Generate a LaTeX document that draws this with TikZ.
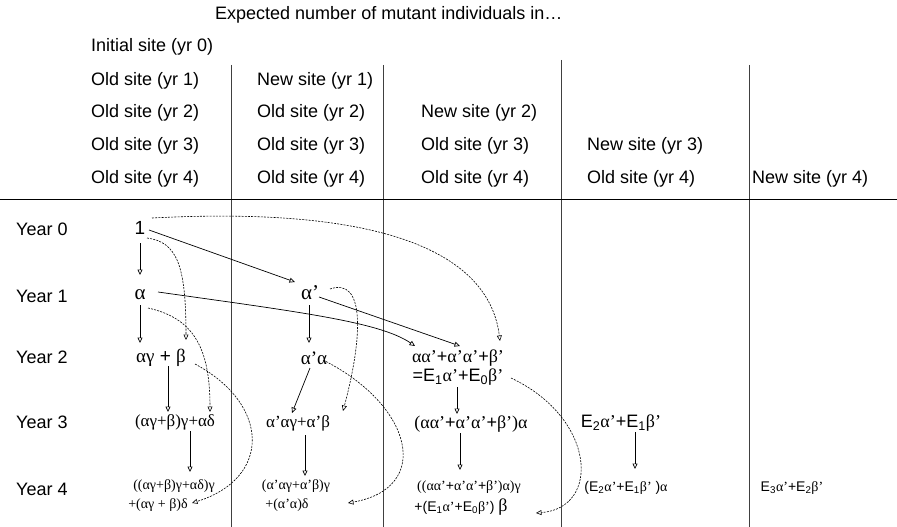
\documentclass[tikz,border=0pt]{standalone}
\usepackage{fontspec}
\setmainfont{Liberation Sans}
\newfontfamily\grk{Liberation Serif}
\usetikzlibrary{arrows.meta,calc}
\newcommand\xa{{\grk α}}
\newcommand\xb{{\grk β}}
\newcommand\xg{{\grk γ}}
\newcommand\xd{{\grk δ}}
\newcommand\xp{{\grk ’}}
\newcommand\xE[1]{E\textsubscript{#1}}
\newcommand\fs[1]{\fontsize{#1}{#1}\selectfont}
\tikzset{
  txt/.style={inner sep=0pt, font=\fs{18}, anchor=west},
  fm/.style={inner sep=0pt, font=\fs{18}},
  fsm/.style={inner sep=0pt, font=\fs{14}},
  sep/.style={draw=black!75, line width=0.9pt},
  ar/.style={draw=black, line width=0.7pt, -{Triangle[open,length=5.5pt,width=5pt]}},
  dar/.style={draw=black, line width=0.6pt, dash pattern=on 2pt off 1.2pt, -{Triangle[open,length=5.5pt,width=5pt]}}
}
\begin{document}
\begin{tikzpicture}[x=1pt,y=-1pt]
\path[use as bounding box] (0,0) rectangle (897,527);
% separators
\draw[sep] (231,65) -- (231,527);
\draw[sep] (383,65) -- (383,527);
\draw[sep] (561,60) -- (561,527);
\draw[sep] (749,65) -- (749,527);
\draw[black, line width=1pt] (0,199) -- (897,199);
% headers
\node[txt] (title) at (215,15) {Expected number of mutant individuals in…};
\node[txt] (hi) at (91,47) {Initial site (yr 0)};
\node[txt] (h11) at (91,81) {Old site (yr 1)};
\node[txt] (h12) at (91,113) {Old site (yr 2)};
\node[txt] (h13) at (91,146) {Old site (yr 3)};
\node[txt] (h14) at (91,179) {Old site (yr 4)};
\node[txt] (h21) at (257,81) {New site (yr 1)};
\node[txt] (h22) at (257,113) {Old site (yr 2)};
\node[txt] (h23) at (257,146) {Old site (yr 3)};
\node[txt] (h24) at (257,179) {Old site (yr 4)};
\node[txt] (h32) at (421,113) {New site (yr 2)};
\node[txt] (h33) at (421,146) {Old site (yr 3)};
\node[txt] (h34) at (421,179) {Old site (yr 4)};
\node[txt] (h43) at (587,146) {New site (yr 3)};
\node[txt] (h44) at (587,179) {Old site (yr 4)};
\node[txt] (h54) at (752,179) {New site (yr 4)};
% year labels
\node[txt] (y0) at (16,229) {Year 0};
\node[txt] (y1) at (16,296) {Year 1};
\node[txt] (y2) at (16,357) {Year 2};
\node[txt] (y3) at (16,422) {Year 3};
\node[txt] (y4) at (16,489) {Year 4};
% formulas
\node[fm, font=\fs{19}] (n1) at (140,228) {1};
\node[fm, font=\fs{21}] (na) at (140,295) {\xa};
\node[fm, font=\fs{19}] (nag) at (161,358) {\xa\xg{} + \xb};
\node[fm, font=\fs{17}] (n3a) at (175,422) {\grk(αγ+β)γ+αδ};
\node[fsm] (n4a1) at (174,486) {\grk((αγ+β)γ+αδ)γ};
\node[fsm] (n4a2) at (158,505) {\grk+(αγ + β)δ};
\node[fm, font=\fs{21}] (nap) at (310,293) {\xa\xp};
\node[fm, font=\fs{19}] (napa) at (314,358) {\xa\xp\xa};
\node[fm, font=\fs{17}] (n3b) at (298,423) {\grk α’αγ+α’β};
\node[fsm] (n4b1) at (296,486) {\grk(α’αγ+α’β)γ};
\node[fsm] (n4b2) at (287,505) {\grk+(α’α)δ};
\node[fm] (n2c1) at (458,358) {\xa\xa\xp+\xa\xp\xa\xp+\xb\xp};
\node[fm] (n2c2) at (458,377) {=\xE{1}\xa\xp+\xE{0}\xb\xp};
\node[fm] (n3c) at (471,424) {{\grk(}\xa\xa\xp+\xa\xp\xa\xp+\xb\xp{\grk)}\xa};
\node[fsm] (n4c1) at (469,487) {{\grk((}\xa\xa\xp+\xa\xp\xa\xp+\xb\xp{\grk)}\xa{\grk)}\xg};
\node[fsm] (n4c2) at (461,507) {+(\xE{1}\xa\xp+\xE{0}\xb\xp) {\fs{18}\xb}};
\node[fm] (n3d) at (621,423) {\xE{2}\xa\xp+\xE{1}\xb\xp};
\node[fsm] (n4d) at (626,488) {(\xE{2}\xa\xp+\xE{1}\xb\xp\ )\xa};
\node[fsm] (n4e) at (792,488) {\xE{3}\xa\xp+\xE{2}\xb\xp};
% solid arrows
\draw[ar] ($(n1)+(0,15)$) -- ($(na)+(0,-20)$);
\draw[ar] ($(na)+(0,10)$) -- ($(nag)+(-21,-15)$);
\draw[ar] ($(nag)+(7,8)$) -- ($(n3a)+(-7,-10)$);
\draw[ar] ($(n3a)+(15,9)$) -- ($(n4a1)+(16,-14)$);
\draw[ar] ($(n1)+(9,2)$) -- ($(nap)+(-15,-11)$);
\draw[ar] ($(na)+(18,-3)$) .. controls +(142,20) and +(-35,-24) .. ($(n2c1)+(-43,-12)$);
\draw[ar] ($(nap)+(-1,12)$) -- ($(napa)+(-5,-15)$);
\draw[ar] ($(napa)+(-4,10)$) -- ($(n3b)+(-6,-10)$);
\draw[ar] ($(n3b)+(7,12)$) -- ($(n4b1)+(9,-10)$);
\draw[ar] ($(nap)+(9,4)$) -- ($(n2c1)+(2,-12)$);
\draw[ar] ($(n2c2)+(-1,10)$) -- ($(n3c)+(-14,-10)$);
\draw[ar] ($(n3c)+(-11,9)$) -- ($(n4c1)+(-9,-17)$);
\draw[ar] ($(n3d)+(14,9)$) -- ($(n4d)+(9,-19)$);
% dashed arrows
\draw[dar] ($(n1)+(12,-10)$) .. controls +(248,-13) and +(-10,-81) .. ($(n2c1)+(42,-17)$);
\draw[dar] ($(n1)+(7,10)$) .. controls +(30,4) and +(0,-75) .. ($(nag)+(25,-18)$);
\draw[dar] ($(na)+(8,13)$) .. controls +(45,10) and +(0,-65) .. ($(n3a)+(35,-10)$);
\draw[dar] ($(nag)+(34,6)$) .. controls +(75,40) and +(80,-25) .. ($(n4a2)+(34,-2)$);
\draw[dar] ($(nap)+(20,-4)$) .. controls +(35,-12) and +(20,-75) .. ($(n3b)+(45,-12)$);
\draw[dar] ($(napa)+(9,2)$) .. controls +(90,45) and +(85,-15) .. ($(n4b2)+(61,-2)$);
\draw[dar] ($(n2c2)+(53,1)$) .. controls +(85,40) and +(65,-5) .. ($(n4c2)+(75,6)$);
\end{tikzpicture}
\end{document}
